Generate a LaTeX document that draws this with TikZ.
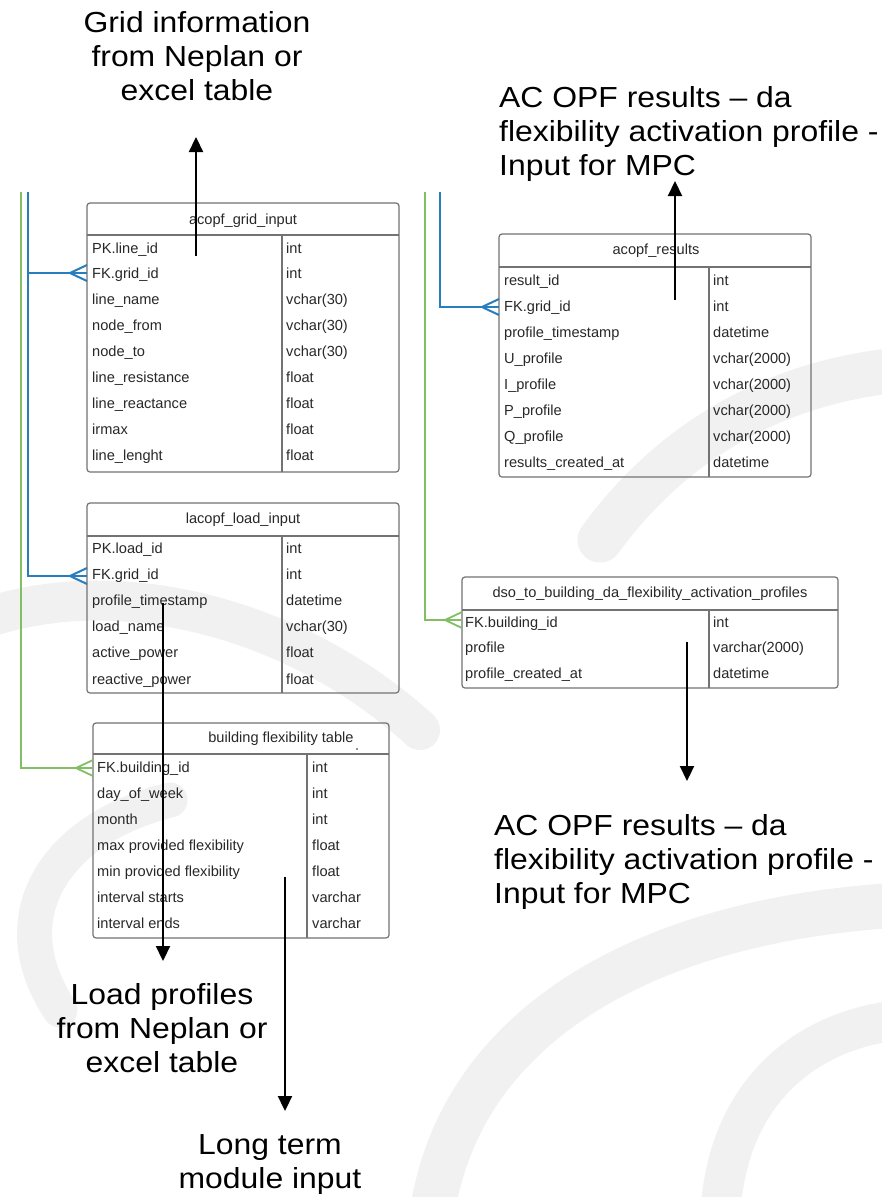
\documentclass[tikz,border=0pt]{standalone}
\usepackage{fontspec}
\setmainfont{Liberation Sans}
\newfontfamily\bigfam[FakeStretch=1.1]{Liberation Sans}
\usetikzlibrary{arrows.meta}
\definecolor{erdblue}{RGB}{40,125,190}
\definecolor{erdgreen}{RGB}{130,190,100}
\definecolor{tblgray}{RGB}{115,115,115}
\definecolor{txtdark}{RGB}{40,40,40}
\definecolor{wmgray}{RGB}{241,241,241}
\newcommand\rowfont{\fontsize{14.6}{17}\selectfont}
\newcommand\bigfont{\bigfam\fontsize{29}{34}\selectfont}
\newcommand\crowfoot[2]{\draw[#2] ([xshift=-17pt]#1) -- ([yshift=8pt]#1) ([xshift=-17pt]#1) -- ([yshift=-8pt]#1);}
\tikzset{
  tbl/.style={draw=tblgray, line width=1.2pt, rounded corners=3pt},
  hdrline/.style={draw=tblgray, line width=1.6pt},
  colline/.style={draw=tblgray, line width=1.1pt},
  rowtxt/.style={anchor=base west, inner sep=0pt, font=\rowfont, text=txtdark},
  ttltxt/.style={anchor=base, inner sep=0pt, font=\rowfont, text=txtdark},
  lbl/.style={anchor=base, inner sep=0pt, font=\bigfont, text=black},
  blueln/.style={draw=erdblue, line width=2pt},
  greenln/.style={draw=erdgreen, line width=1.8pt},
  arr/.style={draw=black, line width=2.2pt, -{Triangle[width=14pt,length=15pt]}},
  wm/.style={draw=wmgray, line cap=round}
}
\begin{document}
\begin{tikzpicture}[x=1pt,y=-1pt]
\useasboundingbox (0,0) rectangle (882,1197);
\fill[white] (0,0) rectangle (882,1197);

% faint background swirl
\draw[wm, line width=45pt] (430,1230) .. controls (450,1030) and (640,920) .. (900,905);
\draw[wm, line width=40pt] (720,1230) .. controls (720,1100) and (800,1030) .. (900,1020);
\draw[wm, line width=45pt] (600,540) .. controls (680,430) and (790,380) .. (900,370);
\draw[wm, line width=40pt] (-20,620) .. controls (120,570) and (300,620) .. (420,730);
\draw[wm, line width=35pt] (60,1010) .. controls (0,920) and (50,830) .. (170,800);

% ---------------- tables ----------------
% acopf_grid_input
\draw[tbl] (87,203) rectangle (399,472);
\draw[hdrline] (87,235) -- (399,235);
\draw[colline] (282,235) -- (282,472);
\node[ttltxt] (t1title) at (243,224) {acopf\_grid\_input};
\foreach \a/\b [count=\i from 0] in {PK.line\_id/int, FK.grid\_id/int, line\_name/vchar(30), node\_from/vchar(30), node\_to/vchar(30), line\_resistance/float, line\_reactance/float, irmax/float, line\_lenght/float}{
  \node[rowtxt] (t1a\i) at (92,{253+\i*25.9}) {\a};
  \node[rowtxt] (t1b\i) at (286,{253+\i*25.9}) {\b};
}

% acopf_results
\draw[tbl] (499,234) rectangle (811,477);
\draw[hdrline] (499,267) -- (811,267);
\draw[colline] (709,267) -- (709,477);
\node[ttltxt] (t2title) at (656,254) {acopf\_results};
\foreach \a/\b [count=\i from 0] in {result\_id/int, FK.grid\_id/int, profile\_timestamp/datetime, U\_profile/vchar(2000), I\_profile/vchar(2000), P\_profile/vchar(2000), Q\_profile/vchar(2000), results\_created\_at/datetime}{
  \node[rowtxt] (t2a\i) at (504,{285+\i*26.1}) {\a};
  \node[rowtxt] (t2b\i) at (713,{285+\i*26.1}) {\b};
}

% lacopf_load_input
\draw[tbl] (87,503) rectangle (399,693);
\draw[hdrline] (87,536) -- (399,536);
\draw[colline] (282,536) -- (282,693);
\node[ttltxt] (t3title) at (243,523) {lacopf\_load\_input};
\foreach \a/\b [count=\i from 0] in {PK.load\_id/int, FK.grid\_id/int, profile\_timestamp/datetime, load\_name/vchar(30), active\_power/float, reactive\_power/float}{
  \node[rowtxt] (t3a\i) at (92,{553+\i*26.2}) {\a};
  \node[rowtxt] (t3b\i) at (286,{553+\i*26.2}) {\b};
}

% dso_to_building_da_flexibility_activation_profiles
\draw[tbl] (462,577) rectangle (838,688);
\draw[hdrline] (462,610) -- (838,610);
\draw[colline] (709,610) -- (709,688);
\node[ttltxt] (t4title) at (650,597) {dso\_to\_building\_da\_flexibility\_activation\_profiles};
\foreach \a/\b [count=\i from 0] in {FK.building\_id/int, profile/varchar(2000), profile\_created\_at/datetime}{
  \node[rowtxt] (t4a\i) at (465,{627+\i*25.5}) {\a};
  \node[rowtxt] (t4b\i) at (713,{627+\i*25.5}) {\b};
}

% building flexibility table
\draw[tbl] (93,723) rectangle (389,938);
\draw[hdrline] (93,754) -- (389,754);
\draw[colline] (307,754) -- (307,938);
\node[ttltxt] (t5title) at (281,742) {building flexibility table};
\fill[txtdark] (357,749) circle (0.8pt);
\foreach \a/\b [count=\i from 0] in {FK.building\_id/int, day\_of\_week/int, month/int, max provided flexibility/float, min provided flexibility/float, interval starts/varchar, interval ends/varchar}{
  \node[rowtxt] (t5a\i) at (97,{772+\i*26}) {\a};
  \node[rowtxt] (t5b\i) at (312,{772+\i*26}) {\b};
}

% ---------------- ERD connectors ----------------
\coordinate (gTopL) at (21,192);
\coordinate (gBotL) at (21,768);
\coordinate (t5fk) at (93,768);
\coordinate (bTopL) at (28,192);
\coordinate (bJoin) at (28,273);
\coordinate (t1fk) at (87,273);
\coordinate (bBotL) at (28,576);
\coordinate (t3fk) at (87,576);
\coordinate (gTopR) at (425,192);
\coordinate (gBotR) at (425,620);
\coordinate (t4fk) at (462,620);
\coordinate (bTopR) at (440,192);
\coordinate (bBotR) at (440,307);
\coordinate (t2fk) at (499,307);

\draw[greenln] (gTopL) -- (gBotL) -- (t5fk);
\crowfoot{t5fk}{greenln}
\draw[blueln] (bTopL) -- (bBotL) -- (t3fk);
\draw[blueln] (bJoin) -- (t1fk);
\crowfoot{t1fk}{blueln}
\crowfoot{t3fk}{blueln}
\draw[greenln] (gTopR) -- (gBotR) -- (t4fk);
\crowfoot{t4fk}{greenln}
\draw[blueln] (bTopR) -- (bBotR) -- (t2fk);
\crowfoot{t2fk}{blueln}

% ---------------- labels ----------------
\node[lbl] (gridlbl) at (197,32) {\begin{tabular}[t]{@{}c@{}}Grid information\\from Neplan or\\excel table\end{tabular}};
\node[lbl, anchor=base west] (acopftop) at (499,107) {\begin{tabular}[t]{@{}l@{}}AC OPF results – da\\flexibility activation profile -\\Input for MPC\end{tabular}};
\node[lbl, anchor=base west] (acopfbot) at (494,835) {\begin{tabular}[t]{@{}l@{}}AC OPF results – da\\flexibility activation profile -\\Input for MPC\end{tabular}};
\node[lbl] (loadlbl) at (162,1004) {\begin{tabular}[t]{@{}c@{}}Load profiles\\from Neplan or\\excel table\end{tabular}};
\node[lbl] (longlbl) at (270,1154) {\begin{tabular}[t]{@{}c@{}}Long term\\module input\end{tabular}};

% ---------------- data-flow arrows ----------------
\coordinate (a1s) at (196,256);  \coordinate (a1e) at (196,137);
\coordinate (a2s) at (675,300);  \coordinate (a2e) at (675,181);
\coordinate (a3s) at (163,603);  \coordinate (a3e) at (163,961);
\coordinate (a4s) at (285,877);  \coordinate (a4e) at (285,1111);
\coordinate (a5s) at (687,642);  \coordinate (a5e) at (687,781);
\draw[arr] (a1s) -- (a1e);
\draw[arr] (a2s) -- (a2e);
\draw[arr] (a3s) -- (a3e);
\draw[arr] (a4s) -- (a4e);
\draw[arr] (a5s) -- (a5e);
\end{tikzpicture}
\end{document}
